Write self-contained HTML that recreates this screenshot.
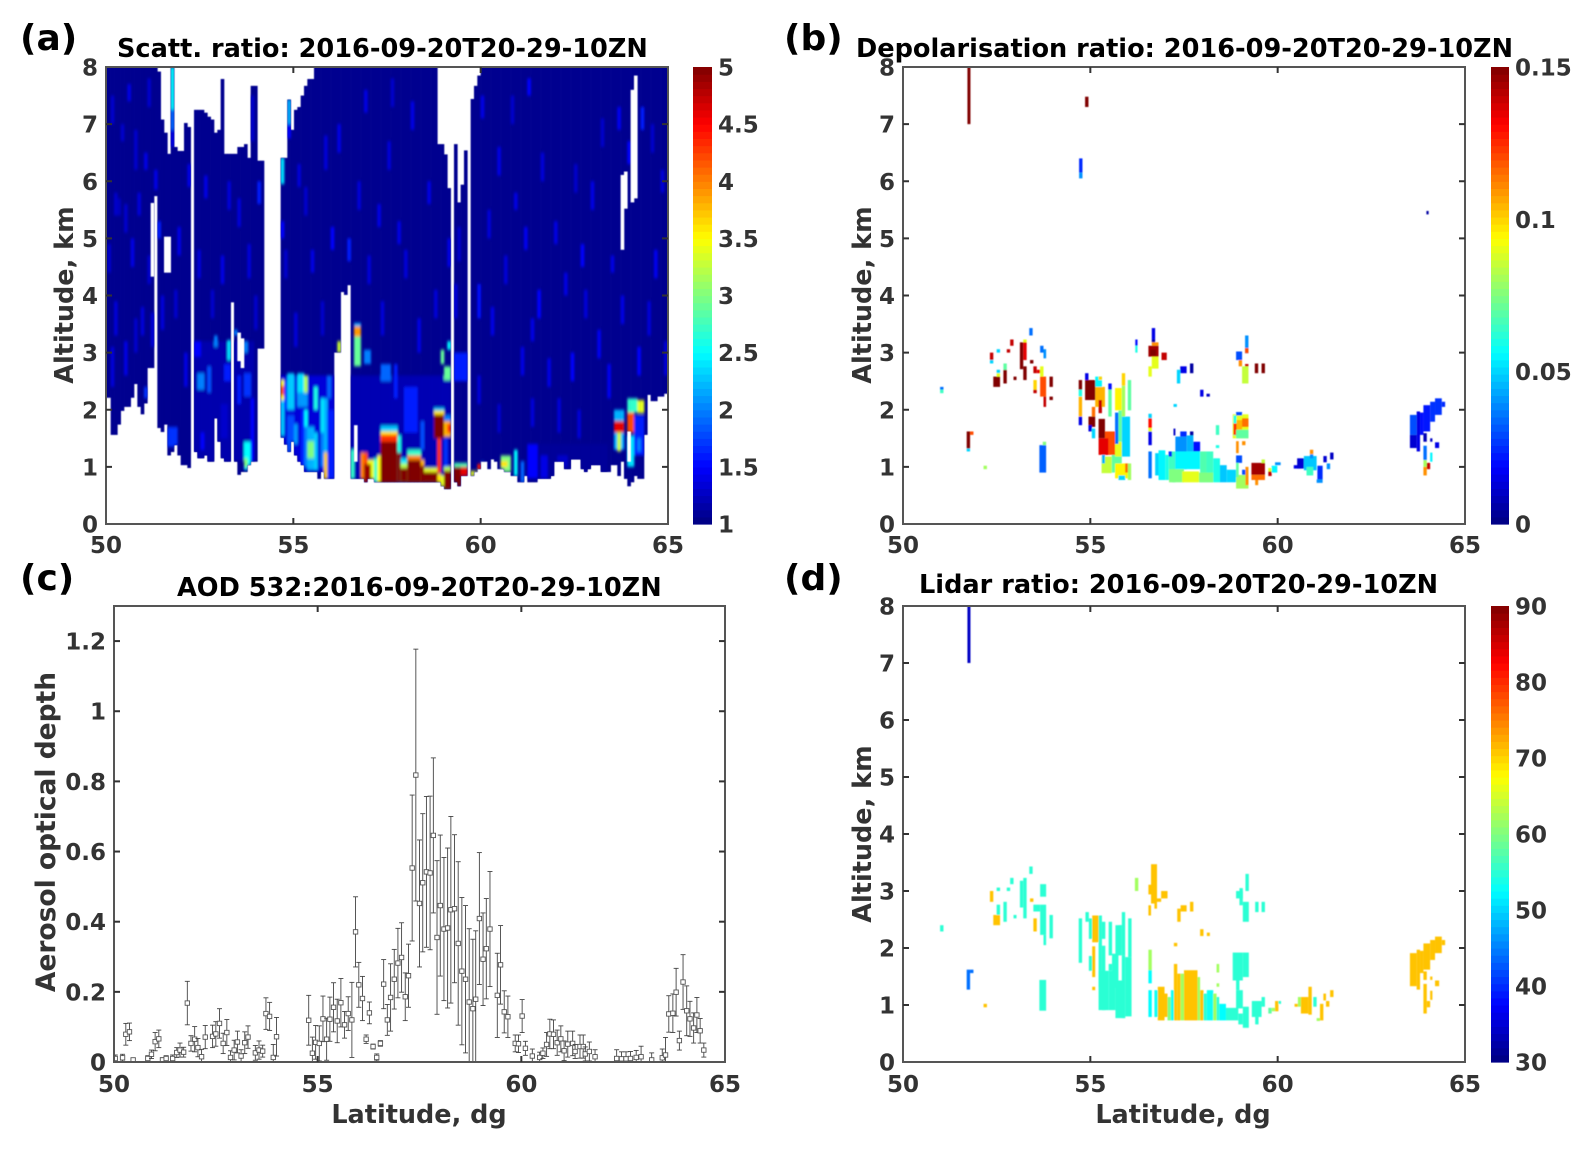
<!DOCTYPE html>
<html lang="en">
<head>
<meta charset="utf-8">
<title>Lidar profiles 2016-09-20T20-29-10ZN</title>
<style>
html,body{margin:0;padding:0;background:#fff;}
svg{display:block;}
text{font-family:"DejaVu Sans","Liberation Sans",sans-serif;font-weight:bold;}
</style>
</head>
<body>
<svg id="fig" width="1592" height="1153" viewBox="0 0 1592 1153" xmlns="http://www.w3.org/2000/svg">
<defs>
<filter id="soft" x="-2%" y="-2%" width="104%" height="104%"><feGaussianBlur stdDeviation="0.5"/></filter>
<filter id="streak" x="-2%" y="-2%" width="104%" height="104%"><feGaussianBlur stdDeviation="1 1.6"/></filter>
<filter id="softer" x="-2%" y="-2%" width="104%" height="104%"><feGaussianBlur stdDeviation="0.5"/></filter>
<filter id="thin" x="-2%" y="-2%" width="104%" height="104%"><feGaussianBlur stdDeviation="0.3"/></filter>
<clipPath id="clip-a"><rect x="106" y="67" width="562" height="457"/></clipPath>
<clipPath id="clip-b"><rect x="903" y="67" width="562" height="457"/></clipPath>
<clipPath id="clip-c"><rect x="114" y="606" width="611" height="456"/></clipPath>
<clipPath id="clip-d"><rect x="903" y="606" width="562" height="456"/></clipPath>
<clipPath id="mask-a"></clipPath>
</defs>
</svg>
<script>
/* ---------- panel (a): scattering ratio, one entry per profile column ---------- */
const scattFirstLat = 49.947;
const scattLatStep = 0.08896;
const scattBottomAlt = [2.21,2.21,1.56,1.56,1.74,1.98,2.05,2.05,2.21,2.45,2.05,1.92,2.11,2.73,2.73,5.74,1.68,1.61,1.74,1.2,1.26,1.38,1.2,1.03,1.03,.98,null,1.26,1.15,1.15,1.2,1.09,1.09,1.85,1.44,1.15,1.09,1.09,3.88,1.09,.86,.91,.91,1.03,1.09,1.09,3.07,3.07,null,null,null,null,null,1.51,1.39,1.26,1.44,1.2,1.09,1.03,.91,.91,.91,.91,.79,.91,.79,.79,.79,3.0,3.0,4.06,4.01,4.18,.79,.79,.79,.79,.73,.79,.79,.73,.73,.73,.73,.73,.73,.73,.73,.73,.73,.73,.73,.73,.73,.73,.73,.73,.73,.73,.73,.66,.61,.61,null,.73,.66,.84,.84,null,.84,.91,.96,1.09,1.09,.96,1.13,1.09,.96,.96,.91,.91,.84,.84,.73,.73,.84,.73,.73,.73,.79,.79,.79,.79,.84,1.09,1.09,1.09,.96,.96,1.13,1.13,1.13,.96,.91,.96,1.03,1.03,1.03,.91,.91,.91,1.03,1.03,.84,1.09,.79,.66,.73,.84,.79,.79,1.56,2.26,2.15,2.15,2.23,2.23,2.28,2.28];
const scattTopAlt = [8,8,8,8,8,8,8,8,8,8,8,8,8,8,8,8,7.92,7.08,6.85,6.48,8,6.6,6.53,6.53,7.02,6.95,null,7.25,7.25,7.25,7.2,7.13,7.08,6.85,6.9,7.79,6.48,6.48,6.48,6.48,6.6,6.6,6.65,6.41,7.67,7.67,6.36,6.36,null,null,null,null,null,6.41,6.41,7.43,6.9,7.25,7.3,7.5,7.67,7.79,7.79,8,8,8,8,8,8,8,8,8,8,8,8,8,8,8,8,8,8,8,8,8,8,8,8,8,8,8,8,8,8,8,8,8,8,8,8,8,6.65,6.65,6.47,5.88,null,6.65,5.63,5.94,6.54,null,7.44,7.67,7.85,8,8,8,8,8,8,8,8,8,8,8,8,8,8,8,8,8,8,8,8,8,8,8,8,8,8,8,8,8,8,8,8,8,8,8,8,8,8,8,8,8,8,8,8,8,8,8,8,8,8,8,8,8,8,8,8,8];
const scattBackground = 1.06;
const scattStreaks = [[7,7.4,7.7,1.4],[5,6.7,7.0,1.3],[12,6.2,6.5,1.4],[15,5.85,6.2,1.4],[3,5.4,5.8,1.3],[4,5.4,5.7,1.25],[10,5.4,5.8,1.35],[16,5.0,5.3,1.6],[46,5.6,6.0,1.6],[40,5.2,5.7,1.35],[68,4.8,5.2,1.5],[73,4.6,5.0,1.6],[82,5.2,5.6,1.4],[88,4.9,5.3,1.4],[127,7.5,7.8,1.5],[154,6.9,7.3,1.45],[161,6.9,7.3,1.6],[157,6.3,6.7,1.5],[123,5.5,5.8,1.4],[135,4.9,5.3,1.4],[143,4.5,4.9,1.5],[152,4.4,4.7,1.4],[25,5.9,6.3,1.4],[8,4.5,5.0,1.4],[3,3.3,3.9,1.35],[6,2.6,3.2,1.4],[11,3.3,3.8,1.35],[22,4.7,5.2,1.4],[30,5.7,6.1,1.4],[35,4.2,4.7,1.4],[44,6.7,7.5,1.3],[58,5.9,6.3,1.35],[62,4.4,4.8,1.4],[70,6.5,7.0,1.4],[78,7.2,7.6,1.4],[85,6.2,6.7,1.35],[92,6.9,7.4,1.4],[97,5.6,6.0,1.4],[103,4.5,5.0,1.4],[113,7.1,7.5,1.4],[118,6.1,6.6,1.4],[126,4.8,5.2,1.45],[130,3.6,4.1,1.5],[138,4.0,4.4,1.4],[146,5.5,6.0,1.4],[165,4.3,4.8,1.45],[167,5.8,6.2,1.35],[112,3.6,4.2,1.55],[116,3.3,3.8,1.4],[128,3.2,3.6,1.4],[140,2.5,3.0,1.5],[148,2.9,3.4,1.45],[160,2.6,3.1,1.5],[108,2.5,3.0,1.4],
[2,7.0,7.5,1.3],[9,6.2,6.9,1.3],[13,7.3,7.8,1.3],[1,4.4,4.9,1.3],[6,5.1,5.6,1.3],[13,4.2,4.7,1.3],[2,2.4,3.1,1.35],[9,3.0,3.6,1.3],[14,3.1,3.7,1.35],[17,3.4,4.0,1.35],[21,3.6,4.1,1.3],[24,2.4,3.0,1.4],[28,4.3,4.8,1.35],[32,3.6,4.1,1.3],[37,5.5,6.0,1.35],[43,4.3,4.9,1.35],[45,3.4,4.0,1.3],[54,4.3,4.8,1.3],[57,3.1,3.7,1.35],[60,5.4,5.9,1.3],[65,3.3,3.9,1.3],[66,6.2,6.8,1.35],[76,5.5,6.0,1.35],[79,4.2,4.7,1.35],[83,3.3,3.9,1.35],[86,7.3,7.8,1.3],[90,4.3,4.8,1.35],[94,3.0,3.6,1.4],[99,3.6,4.1,1.35],[105,3.6,4.2,1.35],[106,4.6,5.2,1.3],[115,5.0,5.5,1.35],[120,4.2,4.7,1.35],[122,7.0,7.5,1.3],[125,2.6,3.1,1.4],[131,6.0,6.5,1.35],[133,2.4,2.9,1.4],[136,1.6,2.2,1.35],[141,5.8,6.3,1.3],[142,1.5,2.0,1.35],[144,3.6,4.1,1.35],[149,6.6,7.1,1.3],[151,2.2,2.8,1.45],[155,3.5,4.0,1.4],[163,3.3,3.9,1.35],[164,6.5,7.0,1.3],[168,2.6,3.2,1.35],[128,1.7,2.2,1.35],[118,1.6,2.1,1.3],[112,2.1,2.6,1.35]];
const scattPatches = [[27,44,1.1,3.2,1.18],[53,68,.9,2.6,1.35],[74,103,.8,2.6,1.2],[128,150,.8,1.4,1.1],
[53,53,2.17,2.52,3.5],[53,53,2.25,2.42,4.2],[53,53,1.55,2.17,2.3],[54,55,2.0,2.5,1.7],[55,56,2.0,2.64,2.3],[58,59,2.2,2.64,2.4],[60,60,2.3,2.6,3.2],[58,60,2.05,2.3,2.1],[60,60,1.7,2.0,2.5],[60,60,1.0,1.7,2.0],[61,62,.95,1.7,2.2],[61,62,1.15,1.45,3.0],[63,63,2.0,2.4,2.6],[63,63,.95,1.6,2.3],[65,65,1.6,2.2,2.4],[65,65,1.0,1.6,2.0],[66,66,1.25,2.2,2.2],[66,66,.79,1.25,3.7],[67,67,2.2,2.6,1.9],[67,68,.79,2,1.6],[55,56,1.1,1.9,1.8],[57,57,1.4,1.75,2.1],[59,59,1.0,2.0,1.6],
[70,70,3.0,3.2,3.3],[75,76,3.28,3.46,3.9],[75,76,2.76,3.28,2.9],[75,76,3.46,3.52,2.2],[78,79,2.8,3.05,2.0],[74,74,.79,1.3,2.7],[79,80,.73,1.12,3.5],[77,77,.73,1.25,4.0],[78,78,.73,1.25,4.2],[78,79,.73,1.05,4.9],[80,80,.8,1.1,3.4],[81,82,.73,1.15,2.7],[82,82,.73,1.2,3.5],
[83,85,2.5,2.8,1.9],[87,87,2.2,2.8,1.6],[90,93,1.6,2.4,1.6],[95,95,1.3,1.8,1.8],
[83,87,.73,1.72,2.3],[83,87,.73,1.62,3.6],[83,87,.73,1.56,4.3],[83,87,.73,1.44,5],[88,88,.73,1.55,2.6],[88,88,.73,1.25,5],[89,90,.73,1.15,2.4],[89,90,.73,1.06,3.2],[89,90,.73,.98,5],[91,94,.73,1.3,2.7],[91,94,.73,1.2,4],[91,94,.73,1.12,5],[95,95,.73,1.12,3.8],[95,95,.73,1.02,5],[96,99,.73,.98,3.4],[96,99,.73,.91,5],[100,100,.73,.88,3.6],[101,101,.66,.85,3.4],[102,103,.61,1.0,3.2],[102,103,.61,.93,5],
[99,101,1.98,2.03,2.3],[99,101,1.91,1.98,3.6],[99,101,1.5,1.91,5],[100,100,.9,1.5,4.3],[102,103,1.8,1.9,2],[102,103,1.53,1.8,3.8],[103,103,1.6,1.75,4.3],[102,102,1.0,1.5,1.7],[101,101,2.8,3.05,2.9],[102,103,2.52,2.76,2.9],[103,103,3.05,3.2,2.5],[105,108,2.5,3.0,1.6],
[105,108,1.0,1.07,2.8],[105,106,.66,1.0,5],[107,108,.84,1.0,4.6],[110,111,.84,.93,3.4],[112,112,.96,1.05,4.4],[113,113,1.0,1.1,2],[119,121,.91,1.2,3.0],[119,120,1.0,1.1,3.6],[123,123,.84,1.3,2.5],[125,125,.73,1.1,1.9],[127,129,.8,1.4,1.5],[131,132,.8,1.2,1.4],[136,138,1.0,1.2,1.3],
[153,155,1.3,2.0,2.2],[153,155,1.6,1.8,4.6],[154,154,1.27,1.6,3.3],[157,158,1.6,2.0,4.2],[157,158,1.0,1.55,2.4],[157,159,1.95,2.2,2.7],[160,161,1.94,2.17,3.4],[159,161,1.2,1.9,1.6],[160,160,1.27,1.5,2.0],[163,163,1.6,2.26,1.5],
[27,28,2.93,3.2,1.5],[28,29,2.35,2.64,2.0],[31,31,2.3,2.76,1.8],[33,33,3.1,3.3,2.0],[37,38,2.87,3.22,2.4],[36,37,2.5,2.8,1.6],[39,39,3.3,3.4,2],[42,42,3.0,3.2,2],[42,43,2.23,2.64,1.7],[40,40,2.1,2.6,1.6],[42,43,.95,1.44,2.5],[42,42,1.0,1.15,3.0],[19,21,1.35,1.7,1.7],[29,29,1.3,1.6,1.5],[12,12,2.2,2.4,1.7],[44,44,1.1,2.2,1.5],[35,36,1.5,2.1,1.3],
[20,20,7.25,8,2.5],[20,20,6.9,7.25,1.9],[20,20,6.6,6.9,1.4],[55,55,7.0,7.43,2.2],[55,55,6.75,7.0,1.5],[53,53,5.95,6.41,2.4],[53,53,5.0,5.3,1.5]];
const scattHoles = [[14,4.33,5.62],[18,4.4,5.03],[19,4.4,5.03],[40,2.85,3.35],[41,2.73,3.25],[75,1.09,1.73],[155,4.8,6.11],[156,5.52,6.17],[158,5.63,7.6],[159,5.7,7.85],[157,1.09,1.62]];

/* ---------- panel (b): depolarisation ratio cells [lat0, lat1, alt0, alt1, value] ---------- */
const depolCells = [[51.72,51.8,7,8,.15],[54.86,54.95,7.3,7.48,.15],[54.7,54.79,6.15,6.4,.025],[54.7,54.79,6.05,6.15,.04],[63.97,64.03,5.42,5.48,.005],
[50.99,51.08,2.35,2.40,.035],[50.99,51.08,2.29,2.35,.065],[51.70,51.79,1.32,1.62,.15],[51.79,51.88,1.56,1.62,.12],[51.7,51.79,1.27,1.32,.05],[52.15,52.24,.96,1.02,.08],[52.32,52.41,2.87,3.0,.14],[52.32,52.41,2.81,2.87,.05],[52.5,52.59,3.0,3.06,.05],[52.41,52.59,2.4,2.58,.15],[52.5,52.59,2.64,2.7,.05],[52.5,52.59,2.58,2.64,.09],[52.68,52.77,2.46,2.7,.15],[52.68,52.77,2.7,2.81,.07],[52.77,52.86,3.0,3.06,.14],[52.86,52.95,3.12,3.23,.14],[52.95,53.03,2.52,2.58,.15],[53.12,53.21,2.71,3.18,.15],[53.21,53.3,3.18,3.23,.09],[53.21,53.3,2.87,3.18,.135],[53.21,53.3,2.52,2.76,.15],[53.37,53.46,3.30,3.43,.035],[53.39,53.48,2.81,2.87,.15],[53.48,53.57,2.64,2.76,.14],[53.57,53.66,2.64,2.7,.135],[53.66,53.75,2.58,2.76,.09],[53.66,53.82,2.23,2.58,.12],[53.48,53.57,2.35,2.52,.10],[53.48,53.57,2.29,2.35,.14],[53.75,53.82,2.05,2.23,.14],[53.66,53.75,3.0,3.12,.035],[53.75,53.82,2.9,3.06,.04],[53.91,54.0,2.4,2.58,.15],[53.91,54.0,2.17,2.23,.15],[53.64,53.82,.9,1.38,.033],[53.73,53.82,1.38,1.44,.075],
[54.69,54.78,2.35,2.52,.15],[54.69,54.78,2.23,2.35,.06],[54.69,54.78,1.88,2.23,.105],[54.69,54.78,1.73,1.88,.015],[54.86,54.95,2.52,2.64,.015],[55.13,55.31,2.4,2.58,.055],[55.22,55.31,2.52,2.58,.1],[55.13,55.39,2.05,2.4,.105],[54.86,55.13,2.17,2.52,.15],[55.22,55.31,1.94,2.17,.14],[55.04,55.13,1.88,2.05,.115],[54.95,55.13,1.7,1.88,.15],[54.95,55.04,1.62,1.73,.015],[55.04,55.13,1.5,1.67,.05],
[55.57,55.84,.9,1.3,.07],[55.39,55.66,1.21,1.62,.12],[55.66,55.84,1.18,1.44,.09],[55.22,55.39,1.5,1.84,.15],[55.22,55.48,1.21,1.5,.135],[55.3,55.57,.89,1.18,.085],[55.31,55.39,1.06,1.21,.045],[55.66,56.02,.8,1.06,.095],[55.93,56.02,.9,1.06,.115],[55.84,56.06,1.18,1.88,.05],[55.66,55.75,1.4,1.95,.035],[55.75,55.84,1.44,1.99,.07],[55.84,55.93,2.42,2.64,.1],[55.66,55.84,1.99,2.38,.095],[55.84,55.93,1.88,2.42,.08],[56.0,56.09,1.99,2.52,.07],[55.48,55.57,2.35,2.46,.02],[55.48,55.57,1.88,2.35,.07],[56.0,56.09,.77,1.06,.08],[55.75,55.93,.77,.85,.05],
[56.2,56.26,3.12,3.23,.02],[56.2,56.26,3.0,3.12,.06],[56.55,56.64,2.58,2.76,.09],[56.64,56.73,3.23,3.43,.015],[56.64,56.73,3.18,3.23,.005],[56.64,56.82,3.12,3.18,.11],[56.64,56.82,2.72,2.93,.09],[56.55,56.82,2.93,3.12,.145],[56.6,56.75,2.95,3.05,.15],[56.9,57.04,2.87,3.0,.14],[56.55,56.64,1.85,1.93,.05],[56.55,56.64,1.68,1.85,.13],[56.55,56.64,1.62,1.68,.09],[56.55,56.64,1.38,1.62,.015],[56.55,56.64,.8,1.27,.035],[57.4,57.57,2.64,2.76,.015],[57.66,57.75,2.64,2.81,.005],[57.31,57.4,2.46,2.7,.05],[57.93,58.02,2.23,2.35,.015],[58.1,58.19,2.23,2.28,.01],[57.22,57.31,2.05,2.1,.05],
[56.73,56.82,.85,1.24,.05],[56.82,57.0,.77,1.29,.055],[57.0,57.09,.77,1.21,.06],[57.09,57.18,.77,1.18,.065],[57.18,57.27,.73,1.27,.065],[57.09,57.18,1.18,1.27,.025],[57.22,57.27,1.55,1.67,.01],[57.27,57.57,.96,1.53,.04],[57.4,57.57,1.53,1.62,.025],[57.57,57.75,1.27,1.55,.045],[57.66,57.75,1.55,1.62,.005],[57.75,57.93,1.27,1.44,.02],[57.27,57.93,.96,1.27,.055],[57.93,58.1,.73,1.27,.068],[58.1,58.28,.73,1.27,.065],[58.28,58.46,.73,1.15,.06],[57.1,57.5,.73,.96,.075],[57.45,57.9,.73,.92,.09],[57.9,58.28,.73,.9,.075],[58.46,58.64,.73,1.03,.048],[58.64,58.89,.73,.95,.05],[58.89,59.22,.62,.86,.08],[59.05,59.14,.86,.95,.03],[59.14,59.22,.68,1.0,.11],
[59.3,59.66,.86,1.07,.145],[59.3,59.66,.77,.86,.115],[59.4,59.48,.68,.77,.11],[59.57,59.66,1.07,1.13,.085],[59.75,59.84,.92,.98,.09],[59.75,59.84,.84,.92,.14],[59.84,59.99,.9,1.02,.055],[59.93,60.08,1.03,1.08,.04],[60.43,60.6,.97,1.03,.015],[60.52,60.7,.97,1.15,.012],[60.7,61.04,.94,1.19,.048],[60.77,60.95,.85,1.0,.065],[60.86,60.95,1.22,1.3,.11],[60.86,60.95,1.15,1.22,.04],[61.06,61.2,.78,1.02,.025],[61.04,61.2,.72,.78,.04],[61.22,61.31,1.08,1.19,.012],[61.31,61.4,.96,1.06,.04],[61.4,61.49,1.13,1.25,.01],
[59.13,59.22,2.99,3.3,.04],[59.13,59.22,2.99,3.08,.12],[58.89,59.05,2.87,3.02,.03],[58.96,59.05,2.76,2.87,.11],[59.05,59.22,2.46,2.76,.085],[59.13,59.22,2.76,2.8,.14],[59.39,59.48,2.64,2.81,.15],[59.57,59.66,2.64,2.81,.15],[58.35,58.44,1.56,1.73,.065],[58.35,58.44,1.33,1.38,.06],
[58.8,59.22,1.5,1.92,.09],[58.82,58.9,1.55,1.9,.06],[58.89,59.05,1.9,1.96,.03],[58.9,59.05,1.65,1.82,.105],[58.82,58.9,1.56,1.76,.125],[59.05,59.22,1.7,1.85,.115],[58.89,59.22,1.5,1.65,.07],[59.05,59.14,1.38,1.45,.11],[58.89,58.96,1.24,1.45,.11],[58.89,59.05,1.07,1.2,.03],[58.89,58.96,.82,1.07,.07],
[63.53,63.71,1.56,1.91,.03],[63.53,63.71,1.33,1.56,.012],[63.71,63.8,1.27,1.97,.015],[63.89,64.07,1.62,2.08,.022],[63.8,63.89,1.56,1.95,.02],[64.07,64.2,1.79,2.14,.026],[64.2,64.38,1.91,2.2,.026],[64.38,64.47,2.05,2.14,.025],[63.89,63.98,1.44,1.59,.008],[64.07,64.13,1.44,1.5,.01],[64.2,64.31,1.33,1.43,.015],[63.89,63.98,1.12,1.37,.035],[63.89,63.98,1.0,1.12,.08],[63.98,64.07,.96,1.07,.14],[63.89,63.98,.85,1.0,.11],[64.07,64.13,1.09,1.25,.055]];

/* ---------- panel (d): lidar ratio cells [lat0, lat1, alt0, alt1, value] ---------- */
const lidarCells = [[51.72,51.8,7,8,34],[50.99,51.08,2.29,2.4,55],[51.7,51.79,1.27,1.62,44],[51.79,51.88,1.56,1.62,44],[52.15,52.24,.96,1.02,71],[52.32,52.41,2.81,3.0,71],[52.41,52.59,2.4,2.58,71],[52.5,52.59,2.58,2.76,55],[52.5,52.59,3.0,3.06,55],[52.68,52.77,2.46,2.81,55],[52.77,52.86,3.0,3.06,55],[52.86,52.95,3.12,3.23,55],[52.95,53.03,2.52,2.58,55],[53.12,53.21,2.71,3.18,55],[53.21,53.3,2.52,3.23,55],[53.37,53.46,3.3,3.43,55],[53.39,53.48,2.81,2.87,71],[53.48,53.66,2.64,2.76,55],[53.66,53.82,2.23,2.76,55],[53.48,53.57,2.29,2.52,71],[53.75,53.82,2.05,2.23,55],[53.66,53.82,2.9,3.12,55],[53.91,54,2.17,2.58,55],[53.64,53.82,.9,1.44,55],
[54.69,54.78,1.74,2.52,55],[54.87,54.96,2.46,2.63,55],[54.96,55.05,2.16,2.52,55],[55.22,55.31,1.32,2.57,55],[55.05,55.22,2.1,2.57,71],[55.31,55.4,2.16,2.46,55],[55.31,55.4,.91,2.04,55],[54.96,55.05,1.6,1.86,55],[55.05,55.13,1.49,2.03,71],[55.05,55.13,1.26,1.32,71],[55.22,55.49,.91,1.6,55],[55.49,55.58,1.87,2.46,55],[55.49,55.58,1.6,1.72,55],[55.58,55.67,1.72,1.84,55],[55.67,55.84,1.87,2.4,55],[55.84,55.93,1.87,2.63,55],[55.49,55.67,.91,1.6,55],[55.58,55.75,1.3,1.9,55],[55.75,55.84,2.0,2.4,55],[55.67,55.93,.77,1.43,55],[55.84,55.93,.77,1.87,55],[55.93,56.1,.8,1.84,55],[56.01,56.1,1.84,2.52,55],
[56.19,56.28,3.0,3.23,62],[56.55,56.64,1.6,1.97,62],[56.55,56.64,1.38,1.61,52.5],[56.55,56.64,.79,1.26,52.5],[56.62,56.78,2.78,3.47,71],[56.55,56.64,2.94,3.11,71],[56.78,56.89,2.81,2.87,71],[56.89,57.06,2.87,3.0,71],[56.55,56.62,2.57,2.75,71],[56.71,56.78,2.69,2.78,71],[57.32,57.41,2.46,2.69,71],[57.41,57.57,2.64,2.75,71],[57.66,57.75,2.64,2.81,71],[57.93,58.02,2.21,2.33,71],[58.11,58.19,2.21,2.27,71],[57.23,57.32,2.03,2.09,71],
[56.71,56.8,.79,1.26,53],[56.8,56.98,.73,1.32,71],[56.98,57.06,.79,1.2,71],[57.06,57.15,.73,1.14,60],[57.15,57.23,.73,1.26,53],[57.23,57.32,.73,1.72,71],[57.32,57.41,.73,1.55,71],[57.41,57.5,.73,1.55,62],[57.5,57.86,.73,1.61,71],[57.86,57.93,.73,1.49,62],[57.93,58.02,.73,1.26,71],[58.02,58.11,.73,1.2,55],[58.11,58.28,.73,1.26,53],[58.28,58.37,.73,1.2,62],[58.37,58.44,.73,1.14,55],[58.44,58.62,.73,1.02,52.5],[58.62,58.95,.73,.95,55],[58.95,59.07,.66,.85,55],[59.07,59.23,.6,.97,55],[58.89,59.07,.94,1.26,55],[58.37,58.44,1.57,1.72,62],[58.37,58.44,1.32,1.38,62],
[58.8,59.07,1.43,1.92,55],[59.07,59.23,1.49,1.92,55],[58.89,58.98,1.26,1.43,55],[59.14,59.23,3.0,3.3,55],[58.89,59.07,2.87,3.0,55],[58.98,59.07,2.75,3.05,55],[59.07,59.23,2.46,2.81,55],[59.4,59.49,2.63,2.81,55],[59.57,59.66,2.63,2.81,55],
[59.31,59.57,.79,1.07,55],[59.4,59.49,.66,.79,55],[59.57,59.66,.97,1.14,55],[59.75,59.84,.85,.95,58],[59.84,59.93,.89,.95,62],[59.93,60.02,.89,1.07,71],[60.02,60.09,1.02,1.07,55],[60.45,60.54,.97,1.02,71],[60.54,60.62,.97,1.14,62],[60.62,60.82,.85,1.14,71],[60.82,60.91,.83,1.32,71],[60.95,61.04,.97,1.14,55],[61.13,61.22,.73,1.02,71],[61.04,61.13,.72,.77,62],[61.22,61.29,1.08,1.2,71],[61.29,61.38,.97,1.07,71],[61.4,61.49,1.14,1.26,71],
[63.53,63.71,1.33,1.91,71],[63.71,63.8,1.27,1.97,71],[63.8,63.89,1.56,1.95,71],[63.89,64.07,1.62,2.08,71],[64.07,64.2,1.79,2.14,71],[64.2,64.38,1.91,2.2,71],[64.38,64.47,2.05,2.14,71],[63.89,63.98,1.44,1.59,71],[64.07,64.13,1.44,1.5,71],[64.2,64.31,1.33,1.43,71],[63.89,63.98,.85,1.37,71],[63.98,64.07,.96,1.07,71],[64.07,64.13,1.09,1.25,71]];

/* ---------- panel (c): aerosol optical depth with error bars ---------- */
const aodLat = [50.03,50.21,50.29,50.38,50.47,50.83,50.92,51.01,51.10,51.19,51.28,51.44,51.54,51.62,51.71,51.80,51.89,51.98,52.06,52.15,52.24,52.42,52.50,52.59,52.68,52.77,52.86,52.95,53.03,53.12,53.21,53.29,53.47,53.56,53.65,53.73,53.82,53.91,53.99,54.78,54.87,54.95,55.04,55.13,55.22,55.30,55.39,55.48,55.57,55.66,55.75,55.84,55.93,56.01,56.10,56.19,56.27,56.36,56.45,56.54,56.62,56.71,56.79,56.88,56.97,57.06,57.15,57.23,57.32,57.41,57.50,57.58,57.67,57.76,57.84,57.93,58.01,58.10,58.19,58.27,58.36,58.45,58.54,58.63,58.72,58.81,58.88,58.97,59.06,59.14,59.23,59.41,59.49,59.58,59.67,59.85,59.93,60.02,60.10,60.27,60.45,60.53,60.62,60.70,60.79,60.88,60.97,61.05,61.14,61.26,61.32,61.44,61.52,61.57,61.67,61.81,62.34,62.46,62.57,62.68,62.82,62.94,63.2,63.46,63.54,63.62,63.72,63.80,63.88,63.97,64.06,64.14,64.23,64.31,64.39,64.48];
const aodValue = [.01,.012,.079,.086,.006,.01,.022,.058,.066,.006,.01,.01,.027,.034,.028,.168,.053,.065,.041,.015,.071,.073,.08,.11,.053,.084,.013,.034,.057,.017,.055,.071,.026,.034,.031,.138,.13,.013,.072,.119,.025,.056,.053,.123,.065,.122,.156,.117,.169,.106,.138,.12,.371,.22,.181,.065,.14,.044,.013,.053,.222,.12,.184,.236,.282,.298,.186,.246,.553,.818,.452,.511,.542,.539,.646,.355,.446,.379,.382,.434,.437,.338,.259,.236,.171,.152,.179,.409,.293,.323,.379,.19,.277,.143,.129,.053,.052,.131,.039,.017,.013,.025,.05,.08,.079,.055,.066,.032,.051,.053,.03,.044,.044,.023,.03,.015,.01,.009,.009,.01,.013,.015,.006,.012,.02,.137,.139,.199,.061,.228,.146,.123,.097,.134,.089,.034];
const aodError = [.01,.01,.031,.025,.005,.008,.012,.026,.025,.006,.008,.01,.014,.02,.014,.062,.022,.036,.026,.021,.033,.032,.035,.042,.029,.037,.019,.028,.031,.018,.031,.032,.021,.026,.017,.045,.04,.037,.055,.071,.046,.048,.05,.065,.06,.063,.07,.062,.069,.038,.048,.107,.1,.064,.063,.012,.031,.007,.01,.008,.07,.044,.096,.085,.099,.099,.068,.09,.208,.359,.181,.197,.215,.219,.221,.219,.201,.204,.228,.266,.211,.233,.21,.21,.209,.198,.195,.188,.132,.143,.164,.12,.112,.06,.059,.024,.025,.047,.02,.02,.015,.015,.034,.042,.041,.036,.037,.028,.037,.035,.02,.033,.033,.02,.027,.02,.025,.02,.02,.02,.02,.03,.02,.025,.05,.052,.055,.068,.027,.078,.071,.05,.043,.05,.035,.02];

/* ---------- tick labels ---------- */
const latTicks = [50,55,60,65];
const altTicks = [0,1,2,3,4,5,6,7,8];
const aodTicks = [0,.2,.4,.6,.8,1,1.2];
const aodTickLabels = ['0','0.2','0.4','0.6','0.8','1','1.2'];
const scattBarTicks = [1,1.5,2,2.5,3,3.5,4,4.5,5];
const depolBarTicks = [0,.05,.1,.15];
const lidarBarTicks = [30,40,50,60,70,80,90];

/* ---------- drawing ---------- */
const NS = 'http://www.w3.org/2000/svg';
const fig = document.getElementById('fig');
function node(parent, tag, name, attrs) {
  const el = document.createElementNS(NS, tag);
  
  
  for (const k in attrs) el.setAttribute(k, attrs[k]);
  parent.appendChild(el);
  return el;
}
function label(parent, name, str, x, y, size, anchor, fill, rot) {
  const attrs = {x: x, y: y, 'font-size': size, 'text-anchor': anchor, fill: fill};
  if (rot) attrs.transform = 'rotate(-90 ' + x + ' ' + y + ')';
  const t = node(parent, 'text', name, attrs);
  t.textContent = str;
  return t;
}
function jet(t) {
  t = Math.max(0, Math.min(1, t));
  const c = v => Math.round(255 * Math.max(0, Math.min(1, v)));
  const r = Math.min(4 * t - 1.5, -4 * t + 4.5);
  const g = Math.min(4 * t - 0.5, -4 * t + 3.5);
  const b = Math.min(4 * t + 0.5, -4 * t + 2.5);
  return 'rgb(' + c(r) + ',' + c(g) + ',' + c(b) + ')';
}
function scale(d0, d1, r0, r1) {
  return v => r0 + (v - d0) * (r1 - r0) / (d1 - d0);
}
const AXIS = '#555', TICK = '#333';

function axes(g, box, xs, ys, xVals, yVals, yText, xLabelY, name) {
  node(g, 'rect', name + '-frame', {x: box.x0, y: box.y0, width: box.x1 - box.x0, height: box.y1 - box.y0, fill: 'none', stroke: AXIS, 'stroke-width': 2});
  xVals.forEach(v => {
    const x = xs(v);
    if (v > xVals[0] && v < xVals[xVals.length - 1]) {
      node(g, 'line', name + '-x-tick', {x1: x, x2: x, y1: box.y1, y2: box.y1 - 6, stroke: TICK, 'stroke-width': 2});
      node(g, 'line', name + '-x-tick', {x1: x, x2: x, y1: box.y0, y2: box.y0 + 6, stroke: TICK, 'stroke-width': 2});
    }
    label(g, name + '-x-tick-label', String(v), x, xLabelY, 23, 'middle', TICK);
  });
  yVals.forEach((v, i) => {
    const y = ys(v);
    if (i > 0 && y > box.y0 + 2) {
      node(g, 'line', name + '-y-tick', {x1: box.x0, x2: box.x0 + 6, y1: y, y2: y, stroke: TICK, 'stroke-width': 2});
      node(g, 'line', name + '-y-tick', {x1: box.x1, x2: box.x1 - 6, y1: y, y2: y, stroke: TICK, 'stroke-width': 2});
    }
    label(g, name + '-y-tick-label', yText[i], box.x0 - 8, y + 8.5, 23, 'end', TICK);
  });
}
function colorbar(g, box, lo, hi, ticks, name) {
  const cs = scale(lo, hi, box.y1, box.y0);
  const n = 64;
  for (let i = 0; i < n; i++) {
    const y1 = box.y1 + (box.y0 - box.y1) * i / n;
    const y2 = box.y1 + (box.y0 - box.y1) * (i + 1) / n;
    node(g, 'rect', name + '-swatch', {x: box.x0, y: y2, width: box.x1 - box.x0, height: y1 - y2 + 0.6, fill: jet((i + 0.5) / n)});
  }
  ticks.forEach(v => {
    label(g, name + '-tick-label', String(v), box.x1 + 6, cs(v) + 8.5, 23, 'start', TICK);
  });
}
function cellsPanel(g, cells, xs, ys, lo, hi, name) {
  cells.forEach(c => {
    node(g, 'rect', name, {x: xs(c[0]), y: ys(c[3]), width: xs(c[1]) - xs(c[0]), height: ys(c[2]) - ys(c[3]), fill: jet((c[4] - lo) / (hi - lo))});
  });
}

/* panel a */
(function () {
  const box = {x0: 106, x1: 668, y0: 67, y1: 524};
  const xs = scale(50, 65, box.x0, box.x1), ys = scale(0, 8, box.y1, box.y0);
  const root = node(fig, 'g', 'panel-a-scattering-ratio', {});
  const clip = node(root, 'g', 'scatt-heatmap-clip', {'clip-path': 'url(#clip-a)'});
  const heat = node(clip, 'g', 'scatt-heatmap-base', {filter: 'url(#soft)'});
  const maskClip = document.getElementById('mask-a');
  const maskWrap = node(clip, 'g', 'scatt-heatmap-mask', {'clip-path': 'url(#mask-a)'});
  const detail = node(maskWrap, 'g', 'scatt-heatmap-detail', {filter: 'url(#streak)'});
  const holes = node(clip, 'g', 'scatt-heatmap-holes', {filter: 'url(#soft)'});
  const colX = i => xs(scattFirstLat + i * scattLatStep);
  const colW = () => xs(scattFirstLat + scattLatStep) - xs(scattFirstLat) + 0.3;
  const tone = v => jet((v - 1) / 4);
  scattBottomAlt.forEach((b, i) => {
    const t = scattTopAlt[i];
    if (b === null || t === null) return;
    const geom = {x: colX(i), y: ys(t), width: colW(), height: ys(b) - ys(t)};
    node(heat, 'rect', 'scatt-column', Object.assign({fill: tone(scattBackground)}, geom));
    node(maskClip, 'rect', 'scatt-column-mask', geom);
  });
  function cell(i, a0, a1, v, nm) {
    const b = scattBottomAlt[i], t = scattTopAlt[i];
    if (b === null || t === null) return;
    const lo = Math.max(a0, b), hi = Math.min(a1, t);
    if (hi <= lo) return;
    node(detail, 'rect', nm, {x: colX(i), y: ys(hi), width: colW(), height: ys(lo) - ys(hi), fill: tone(v)});
  }
  scattStreaks.forEach(s => cell(s[0], s[1], s[2], s[3], 'scatt-streak'));
  scattPatches.forEach(p => {
    for (let i = p[0]; i <= p[1]; i++) cell(i, p[2], p[3], p[4], 'scatt-patch');
  });
  scattHoles.forEach(h => {
    node(holes, 'rect', 'scatt-missing-data', {x: colX(h[0]), y: ys(h[2]), width: colW(), height: ys(h[1]) - ys(h[2]), fill: '#fff'});
  });
  axes(root, box, xs, ys, latTicks, altTicks, altTicks.map(String), 553, 'panel-a');
  colorbar(root, {x0: 693, x1: 712, y0: 67, y1: 524}, 1, 5, scattBarTicks, 'scatt-colorbar');
  label(root, 'panel-a-letter', '(a)', 20, 50, 36, 'start', '#000');
  label(root, 'panel-a-title', 'Scatt. ratio: 2016-09-20T20-29-10ZN', 117, 57, 25.6, 'start', '#000');
  label(root, 'panel-a-y-title', 'Altitude, km', 73, 295, 25.5, 'middle', TICK, true);
})();

/* panel b */
(function () {
  const box = {x0: 903, x1: 1465, y0: 67, y1: 524};
  const xs = scale(50, 65, box.x0, box.x1), ys = scale(0, 8, box.y1, box.y0);
  const root = node(fig, 'g', 'panel-b-depolarisation-ratio', {});
  const clip = node(root, 'g', 'depol-heatmap-clip', {'clip-path': 'url(#clip-b)'});
  const heat = node(clip, 'g', 'depol-heatmap', {filter: 'url(#softer)'});
  cellsPanel(heat, depolCells, xs, ys, 0, .15, 'depol-cell');
  axes(root, box, xs, ys, latTicks, altTicks, altTicks.map(String), 553, 'panel-b');
  colorbar(root, {x0: 1491, x1: 1509, y0: 67, y1: 524}, 0, .15, depolBarTicks, 'depol-colorbar');
  label(root, 'panel-b-letter', '(b)', 784, 50, 36, 'start', '#000');
  label(root, 'panel-b-title', 'Depolarisation ratio: 2016-09-20T20-29-10ZN', 856, 57, 25.6, 'start', '#000');
  label(root, 'panel-b-y-title', 'Altitude, km', 871, 295, 25.5, 'middle', TICK, true);
})();

/* panel c */
(function () {
  const box = {x0: 114, x1: 725, y0: 606, y1: 1062};
  const xs = scale(50, 65, box.x0, box.x1), ys = scale(0, 1.3, box.y1, box.y0);
  const root = node(fig, 'g', 'panel-c-aerosol-optical-depth', {});
  const clip = node(root, 'g', 'aod-series-clip', {'clip-path': 'url(#clip-c)'});
  const series = node(clip, 'g', 'aod-series', {filter: 'url(#thin)'});
  aodLat.forEach((lat, i) => {
    const x = xs(lat), y = ys(aodValue[i]);
    const top = ys(aodValue[i] + aodError[i]), bot = ys(aodValue[i] - aodError[i]);
    node(series, 'line', 'aod-error-bar', {x1: x, x2: x, y1: top, y2: bot, stroke: '#444', 'stroke-width': 0.9});
    node(series, 'line', 'aod-error-cap', {x1: x - 2.5, x2: x + 2.5, y1: top, y2: top, stroke: '#444', 'stroke-width': 0.9});
    node(series, 'line', 'aod-error-cap', {x1: x - 2.5, x2: x + 2.5, y1: bot, y2: bot, stroke: '#444', 'stroke-width': 0.9});
    node(series, 'rect', 'aod-point', {x: x - 2.2, y: y - 2.2, width: 4.4, height: 4.4, fill: '#fff', stroke: '#555', 'stroke-width': 0.9});
  });
  axes(root, box, xs, ys, latTicks, aodTicks, aodTickLabels, 1092, 'panel-c');
  label(root, 'panel-c-letter', '(c)', 20, 590, 36, 'start', '#000');
  label(root, 'panel-c-title', 'AOD 532:2016-09-20T20-29-10ZN', 177, 596, 25.6, 'start', '#000');
  label(root, 'panel-c-y-title', 'Aerosol optical depth', 55, 832, 26.5, 'middle', TICK, true);
  label(root, 'panel-c-x-title', 'Latitude, dg', 419, 1123, 25.5, 'middle', TICK);
})();

/* panel d */
(function () {
  const box = {x0: 903, x1: 1465, y0: 606, y1: 1062};
  const xs = scale(50, 65, box.x0, box.x1), ys = scale(0, 8, box.y1, box.y0);
  const root = node(fig, 'g', 'panel-d-lidar-ratio', {});
  const clip = node(root, 'g', 'lidar-heatmap-clip', {'clip-path': 'url(#clip-d)'});
  const heat = node(clip, 'g', 'lidar-heatmap', {filter: 'url(#softer)'});
  cellsPanel(heat, lidarCells, xs, ys, 30, 90, 'lidar-cell');
  axes(root, box, xs, ys, latTicks, altTicks, altTicks.map(String), 1092, 'panel-d');
  colorbar(root, {x0: 1491, x1: 1509, y0: 606, y1: 1062}, 30, 90, lidarBarTicks, 'lidar-colorbar');
  label(root, 'panel-d-letter', '(d)', 784, 590, 36, 'start', '#000');
  label(root, 'panel-d-title', 'Lidar ratio: 2016-09-20T20-29-10ZN', 919, 593, 25.6, 'start', '#000');
  label(root, 'panel-d-y-title', 'Altitude, km', 871, 834, 25.5, 'middle', TICK, true);
  label(root, 'panel-d-x-title', 'Latitude, dg', 1183, 1123, 25.5, 'middle', TICK);
})();
</script>
</body>
</html>
